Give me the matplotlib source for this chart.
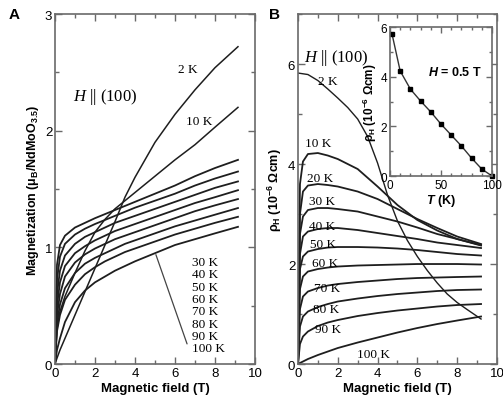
import numpy as np
import matplotlib
matplotlib.use("Agg")
import matplotlib.pyplot as plt
from matplotlib.ticker import MultipleLocator

plt.rcParams['font.family'] = ['Liberation Sans', 'DejaVu Sans']
plt.rcParams['mathtext.fontset'] = 'custom'
plt.rcParams['mathtext.default'] = 'regular'
plt.rcParams['mathtext.it'] = 'Liberation Serif:italic'
plt.rcParams['mathtext.cal'] = 'Liberation Sans:bold:italic'

# ----------------------------------------------------------------------
# PANEL A: magnetization vs field
# ----------------------------------------------------------------------
H_A = [0, 0.1, 0.25, 0.5, 1, 1.5, 2, 2.5, 3, 3.5, 4, 5, 6, 7, 8, 9.15]
M_2K = [0, 0.05, 0.12, 0.22, 0.42, 0.62, 0.82, 1.02, 1.22, 1.43, 1.60, 1.90, 2.14, 2.35, 2.54, 2.72]
M_10K = [0, 0.30, 0.45, 0.58, 0.78, 0.97, 1.13, 1.24, 1.33, 1.40, 1.47, 1.61, 1.75, 1.88, 2.03, 2.20]
M_T = {
    "30 K": [0, 0.85, 1.02, 1.10, 1.17, 1.21, 1.25, 1.285, 1.32, 1.355, 1.39, 1.46, 1.53, 1.61, 1.68, 1.75],
    "40 K": [0, 0.72, 0.92, 1.03, 1.11, 1.16, 1.20, 1.235, 1.27, 1.305, 1.34, 1.40, 1.46, 1.53, 1.59, 1.65],
    "50 K": [0, 0.60, 0.80, 0.93, 1.03, 1.09, 1.13, 1.17, 1.21, 1.24, 1.27, 1.33, 1.39, 1.45, 1.51, 1.565],
    "60 K": [0, 0.50, 0.70, 0.84, 0.95, 1.01, 1.06, 1.10, 1.14, 1.17, 1.20, 1.26, 1.32, 1.38, 1.43, 1.49],
    "70 K": [0, 0.42, 0.60, 0.75, 0.87, 0.94, 0.99, 1.03, 1.07, 1.10, 1.13, 1.19, 1.25, 1.31, 1.36, 1.414],
    "80 K": [0, 0.35, 0.51, 0.65, 0.78, 0.86, 0.91, 0.95, 0.99, 1.03, 1.06, 1.12, 1.18, 1.23, 1.28, 1.337],
    "90 K": [0, 0.28, 0.42, 0.55, 0.68, 0.77, 0.83, 0.88, 0.92, 0.96, 0.99, 1.05, 1.11, 1.16, 1.21, 1.262],
    "100 K": [0, 0.12, 0.22, 0.36, 0.53, 0.63, 0.70, 0.75, 0.80, 0.84, 0.88, 0.95, 1.02, 1.07, 1.12, 1.176],
}

# ----------------------------------------------------------------------
# PANEL B: Hall resistivity vs field
# ----------------------------------------------------------------------
H_B = [0, 0.1, 0.25, 0.5, 1, 1.5, 2, 3, 4, 5, 6, 7, 8, 9.2]
RHO_T = {
    "10 K": [0, 3.6, 4.05, 4.2, 4.22, 4.17, 4.1, 3.9, 3.55, 3.18, 2.88, 2.67, 2.5, 2.37],
    "20 K": [0, 3.0, 3.45, 3.57, 3.6, 3.58, 3.55, 3.45, 3.3, 3.1, 2.9, 2.72, 2.55, 2.4],
    "30 K": [0, 2.6, 2.95, 3.08, 3.12, 3.12, 3.1, 3.05, 2.95, 2.85, 2.73, 2.6, 2.5, 2.38],
    "40 K": [0, 2.2, 2.55, 2.65, 2.7, 2.72, 2.72, 2.68, 2.62, 2.56, 2.5, 2.43, 2.38, 2.32],
    "50 K": [0, 1.9, 2.15, 2.25, 2.3, 2.33, 2.34, 2.34, 2.33, 2.31, 2.28, 2.24, 2.2, 2.17],
    "60 K": [0, 1.5, 1.75, 1.85, 1.9, 1.93, 1.95, 1.97, 1.98, 1.99, 2.0, 2.0, 2.0, 1.99],
    "70 K": [0, 1.1, 1.35, 1.45, 1.52, 1.57, 1.6, 1.64, 1.67, 1.7, 1.72, 1.73, 1.74, 1.75],
    "80 K": [0, 0.75, 0.95, 1.05, 1.14, 1.2, 1.25, 1.31, 1.36, 1.4, 1.43, 1.46, 1.48, 1.49],
    "90 K": [0, 0.4, 0.55, 0.65, 0.76, 0.83, 0.88, 0.96, 1.02, 1.07, 1.11, 1.15, 1.18, 1.2],
    "100 K": [0, 0.02, 0.05, 0.1, 0.18, 0.25, 0.32, 0.43, 0.53, 0.63, 0.72, 0.8, 0.87, 0.95],
}
H_B2K = [0, 0.5, 1, 1.5, 2, 2.5, 3, 3.5, 4, 4.5, 5, 5.5, 6, 6.5, 7, 7.5, 8, 8.5, 9.2]
RHO_2K = [5.82, 5.79, 5.67, 5.5, 5.32, 5.13, 4.9, 4.55, 4.02, 3.38, 2.86, 2.47, 2.15,
          1.87, 1.62, 1.4, 1.23, 1.09, 0.9]

# inset: rho_H at 0.5 T vs temperature
T_INSET = [2, 10, 20, 30, 40, 50, 60, 70, 80, 90, 100]
RHO_INSET = [5.72, 4.23, 3.5, 3.02, 2.58, 2.09, 1.65, 1.21, 0.72, 0.28, 0.0]

# label positions (data coords)
A_LABEL_Y = [0.874, 0.768, 0.663, 0.557, 0.452, 0.346, 0.241, 0.135]
B_LABEL_POS = {
    "10 K": (1.02, 4.43), "20 K": (1.1, 3.73), "30 K": (1.19, 3.27), "40 K": (1.2, 2.77),
    "50 K": (1.26, 2.4), "60 K": (1.36, 2.02), "70 K": (1.46, 1.53), "80 K": (1.41, 1.1),
    "90 K": (1.51, 0.7), "100 K": (3.78, 0.2),
}

LINE_C = '#1e1e1e'
SPINE_C = '#6a6a6a'
SERIF = ['Liberation Serif', 'DejaVu Serif']
LBL_FS = 9.5


def style_axes(ax, labelsize=9.5):
    for s in ax.spines.values():
        s.set_color(SPINE_C)
        s.set_linewidth(1.2)
    ax.tick_params(which='both', direction='in', top=True, right=True,
                   color=SPINE_C, width=1.0, labelsize=labelsize, pad=2)
    ax.tick_params(which='major', length=5)
    ax.tick_params(which='minor', length=3)


fig = plt.figure(figsize=(5.03, 4.02), dpi=100)

# ---------------- A ----------------
axA = fig.add_axes([0.1093, 0.092, 0.3976, 0.8706])
axA.plot(H_A, M_2K, color=LINE_C, lw=1.1)
axA.plot(H_A, M_10K, color=LINE_C, lw=1.1)
for name, vals in M_T.items():
    axA.plot(H_A, vals, color=LINE_C, lw=1.3)
axA.set_xlim(0, 10)
axA.set_ylim(0, 3)
axA.xaxis.set_major_locator(MultipleLocator(2))
axA.xaxis.set_minor_locator(MultipleLocator(1))
axA.yaxis.set_major_locator(MultipleLocator(1))
axA.yaxis.set_minor_locator(MultipleLocator(0.5))
style_axes(axA)
axA.set_xlabel("Magnetic field (T)", fontsize=9.5, fontweight='bold', labelpad=2)
axA.set_ylabel(r"Magnetization ($\mu_B$/NdMoO$_{3.5}$)", fontsize=9,
               fontweight='bold', labelpad=3)
axA.text(2.5, 2.3, r"$\mathit{H}$ || (100)", family=SERIF, fontsize=12,
         ha='center', va='center')
axA.text(6.65, 2.53, "2 K", family=SERIF, fontsize=LBL_FS, ha='center', va='center')
axA.text(7.23, 2.08, "10 K", family=SERIF, fontsize=LBL_FS, ha='center', va='center')
for name, y in zip(M_T.keys(), A_LABEL_Y):
    axA.text(6.85, y, name, family=SERIF, fontsize=LBL_FS, ha='left', va='center')
axA.annotate("", xy=(5.0, 0.96), xytext=(6.65, 0.15),
             arrowprops=dict(arrowstyle='-', color='#444', lw=0.9))
fig.text(0.028, 0.962, "A", fontsize=11, fontweight='bold', ha='center', va='center')

# ---------------- B ----------------
axB = fig.add_axes([0.5924, 0.092, 0.3956, 0.8706])
axB.plot(H_B2K, RHO_2K, color=LINE_C, lw=1.0)
for name, vals in RHO_T.items():
    axB.plot(H_B, vals, color=LINE_C, lw=1.3)
axB.set_xlim(0, 10)
axB.set_ylim(0, 7)
axB.xaxis.set_major_locator(MultipleLocator(2))
axB.xaxis.set_minor_locator(MultipleLocator(1))
axB.yaxis.set_major_locator(MultipleLocator(2))
axB.yaxis.set_minor_locator(MultipleLocator(1))
style_axes(axB)
axB.set_xlabel("Magnetic field (T)", fontsize=9.5, fontweight='bold', labelpad=2)
axB.set_ylabel(r"ρ$_H$ (10$^{-6}$ Ωcm)", fontsize=9, fontweight='bold', labelpad=3)
axB.text(1.93, 6.14, r"$\mathit{H}$ || (100)", family=SERIF, fontsize=12,
         ha='center', va='center')
axB.text(1.48, 5.67, "2 K", family=SERIF, fontsize=LBL_FS, ha='center', va='center')
for name, (x, y) in B_LABEL_POS.items():
    axB.text(x, y, name, family=SERIF, fontsize=LBL_FS, ha='center', va='center')
fig.text(0.545, 0.962, "B", fontsize=11, fontweight='bold', ha='center', va='center')

# ---------------- inset ----------------
axI = fig.add_axes([0.7753, 0.5597, 0.2028, 0.3706])
axI.set_facecolor('white')
axI.plot(T_INSET, RHO_INSET, color='#333', lw=1.0, marker='s', markersize=3.5,
         markerfacecolor='black', markeredgecolor='black', clip_on=False)
axI.set_xlim(0, 100)
axI.set_ylim(0, 6)
axI.xaxis.set_major_locator(MultipleLocator(50))
axI.xaxis.set_minor_locator(MultipleLocator(10))
axI.yaxis.set_major_locator(MultipleLocator(2))
axI.yaxis.set_minor_locator(MultipleLocator(1))
style_axes(axI, labelsize=8.5)
axI.tick_params(which='major', length=4)
axI.tick_params(which='minor', length=2.5)
axI.set_xlabel(r"$\mathcal{T}$ (K)", fontsize=9, fontweight='bold', labelpad=1)
axI.set_ylabel(r"ρ$_H$ (10$^{-6}$ Ωcm)", fontsize=8.5, fontweight='bold', labelpad=1)
axI.text(0.64, 0.7, r"$\mathcal{H}$ = 0.5 T", transform=axI.transAxes,
         fontsize=9, fontweight='bold', ha='center', va='center')

fig.savefig("out.png", dpi=100)
